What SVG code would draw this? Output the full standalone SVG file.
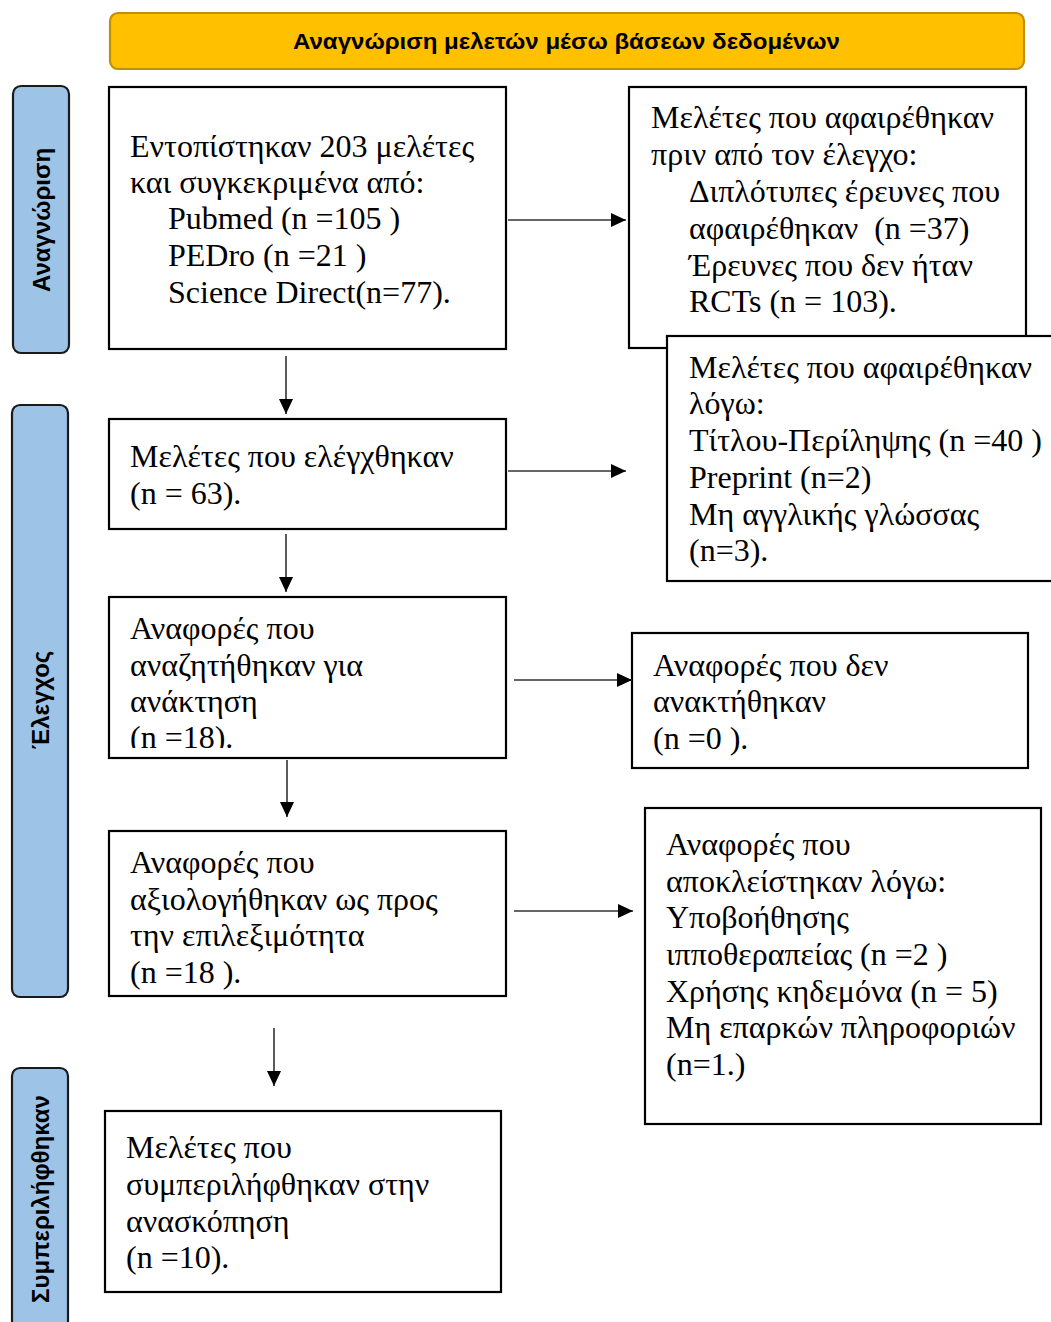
<svg xmlns="http://www.w3.org/2000/svg" width="1051" height="1322" viewBox="0 0 1051 1322">
<defs>
<style>
.box{fill:#fff;stroke:#000;stroke-width:2.2}
.bar{fill:#9DC3E6;stroke:#1a1a1a;stroke-width:2.2}
.t{font-family:"Liberation Serif","Times New Roman",serif;font-size:32px;fill:#000}
.bt{font-family:"Liberation Sans",Arial,sans-serif;font-weight:bold;font-size:24px;fill:#000}
.c{stroke:#333;stroke-width:1.6;fill:none}
</style>
<marker id="ah" markerUnits="userSpaceOnUse" markerWidth="16" markerHeight="14" refX="15" refY="7" orient="auto">
<path d="M0,0 L15,7 L0,14 Z" fill="#000"/>
</marker>
<clipPath id="clip3"><rect x="109" y="597" width="397" height="151"/></clipPath>
</defs>

<g id="header">
<rect x="110" y="13" width="914" height="56" rx="8" fill="#FFC000" stroke="#BF9000" stroke-width="2.2"/>
<text class="bt" x="293" y="49" style="font-size:22px" textLength="547" lengthAdjust="spacingAndGlyphs">Αναγνώριση μελετών μέσω βάσεων δεδομένων</text>
</g>

<g id="bar-identification">
<rect class="bar" x="13" y="86" width="56" height="267" rx="8"/>
<text class="bt" transform="translate(50,220) rotate(-90)" text-anchor="middle">Αναγνώριση</text>
</g>
<g id="bar-screening">
<rect class="bar" x="12" y="405" width="56" height="592" rx="8"/>
<text class="bt" transform="translate(49,700) rotate(-90)" text-anchor="middle">Έλεγχος</text>
</g>
<g id="bar-included">
<rect class="bar" x="12" y="1068" width="56" height="270" rx="8"/>
<text class="bt" transform="translate(49,1199) rotate(-90)" text-anchor="middle">Συμπεριλήφθηκαν</text>
</g>

<g id="identified">
<rect class="box" x="109" y="87" width="397" height="262"/>
<text class="t"><tspan x="130" y="157">Εντοπίστηκαν 203 μελέτες</tspan><tspan x="130" y="193">και συγκεκριμένα από:</tspan><tspan x="168" y="229">Pubmed (n =105 )</tspan><tspan x="168" y="266">PEDro (n =21 )</tspan><tspan x="168" y="303">Science Direct(n=77).</tspan></text>
</g>

<g id="removed-before">
<rect class="box" x="629" y="87" width="397" height="261"/>
<text class="t" style="white-space:pre"><tspan x="651" y="128">Μελέτες που αφαιρέθηκαν</tspan><tspan x="651" y="165">πριν από τον έλεγχο:</tspan><tspan x="689" y="202">Διπλότυπες έρευνες που</tspan><tspan x="689" y="239">αφαιρέθηκαν  (n =37)</tspan><tspan x="689" y="276">Έρευνες που δεν ήταν</tspan><tspan x="689" y="312">RCTs (n = 103).</tspan></text>
</g>

<g id="removed-screening">
<rect class="box" x="667" y="336" width="400" height="245"/>
<text class="t"><tspan x="689" y="378">Μελέτες που αφαιρέθηκαν</tspan><tspan x="689" y="414">λόγω:</tspan><tspan x="689" y="451">Τίτλου-Περίληψης (n =40 )</tspan><tspan x="689" y="488">Preprint (n=2)</tspan><tspan x="689" y="525">Μη αγγλικής γλώσσας</tspan><tspan x="689" y="561">(n=3).</tspan></text>
</g>

<g id="screened">
<rect class="box" x="109" y="419" width="397" height="110"/>
<text class="t"><tspan x="130" y="467">Μελέτες που ελέγχθηκαν</tspan><tspan x="130" y="504">(n = 63).</tspan></text>
</g>

<g id="sought">
<rect class="box" x="109" y="597" width="397" height="161"/>
<text class="t" clip-path="url(#clip3)"><tspan x="130" y="639">Αναφορές που</tspan><tspan x="130" y="676">αναζητήθηκαν για</tspan><tspan x="130" y="712">ανάκτηση</tspan><tspan x="130" y="748">(n =18).</tspan></text>
</g>

<g id="not-retrieved">
<rect class="box" x="632" y="633" width="396" height="135"/>
<text class="t"><tspan x="653" y="676">Αναφορές που δεν</tspan><tspan x="653" y="712">ανακτήθηκαν</tspan><tspan x="653" y="749">(n =0 ).</tspan></text>
</g>

<g id="assessed">
<rect class="box" x="109" y="831" width="397" height="165"/>
<text class="t"><tspan x="130" y="873">Αναφορές που</tspan><tspan x="130" y="910">αξιολογήθηκαν ως προς</tspan><tspan x="130" y="946">την επιλεξιμότητα</tspan><tspan x="130" y="983">(n =18 ).</tspan></text>
</g>

<g id="excluded">
<rect class="box" x="645" y="808" width="396" height="316"/>
<text class="t"><tspan x="666" y="855">Αναφορές που</tspan><tspan x="666" y="892">αποκλείστηκαν λόγω:</tspan><tspan x="666" y="928">Υποβοήθησης</tspan><tspan x="666" y="965">ιπποθεραπείας (n =2 )</tspan><tspan x="666" y="1002">Χρήσης κηδεμόνα (n = 5)</tspan><tspan x="666" y="1038">Μη επαρκών πληροφοριών</tspan><tspan x="666" y="1075">(n=1.)</tspan></text>
</g>

<g id="included">
<rect class="box" x="105" y="1111" width="396" height="181"/>
<text class="t"><tspan x="126" y="1158">Μελέτες που</tspan><tspan x="126" y="1195">συμπεριλήφθηκαν στην</tspan><tspan x="126" y="1232">ανασκόπηση</tspan><tspan x="126" y="1268">(n =10).</tspan></text>
</g>

<g id="connectors">
<line class="c" x1="286" y1="356" x2="286" y2="414" marker-end="url(#ah)"/>
<line class="c" x1="286" y1="534" x2="286" y2="592" marker-end="url(#ah)"/>
<line class="c" x1="287" y1="760" x2="287" y2="817" marker-end="url(#ah)"/>
<line class="c" x1="274" y1="1028" x2="274" y2="1086" marker-end="url(#ah)"/>
<line class="c" x1="508" y1="220" x2="626" y2="220" marker-end="url(#ah)"/>
<line class="c" x1="508" y1="471" x2="626" y2="471" marker-end="url(#ah)"/>
<line class="c" x1="514" y1="680" x2="632" y2="680" marker-end="url(#ah)"/>
<line class="c" x1="514" y1="911" x2="633" y2="911" marker-end="url(#ah)"/>
</g>
</svg>
